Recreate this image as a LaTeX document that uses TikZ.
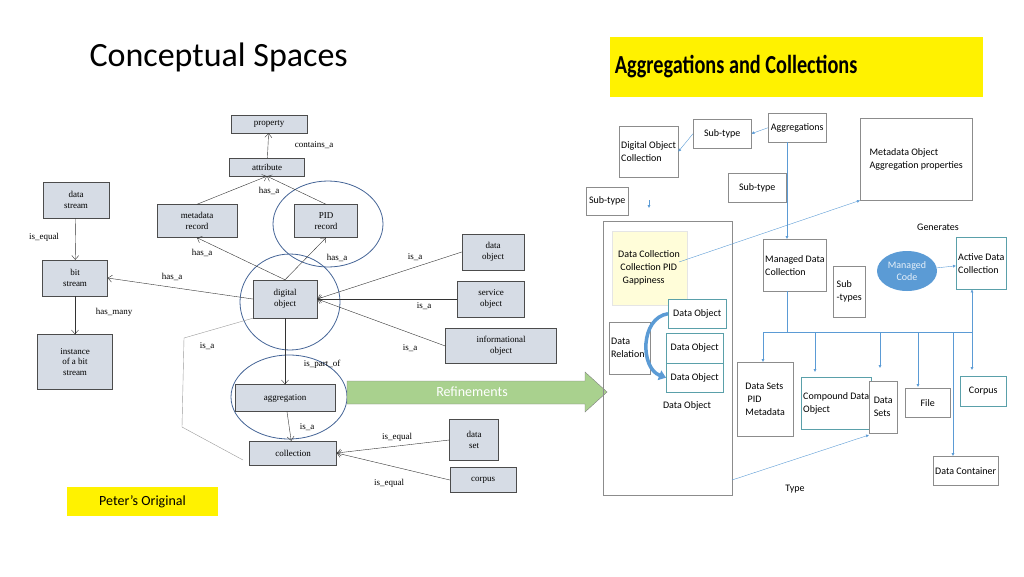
\documentclass[tikz,border=0pt]{standalone}
\usepackage{fontspec}
\setmainfont{Liberation Serif}
\newfontfamily\calfont{Carlito}
\usetikzlibrary{arrows.meta,shapes.geometric}
\definecolor{boxf}{RGB}{214,220,229}
\definecolor{ell}{RGB}{68,100,150}
\definecolor{lb}{RGB}{91,155,213}
\definecolor{gr}{RGB}{169,209,142}
\definecolor{tealb}{RGB}{90,160,170}
\begin{document}
\begin{tikzpicture}[x=1pt,y=-1pt,
 lbox/.style={draw=black!70,fill=boxf,align=center,font=\fontsize{9}{10.5}\selectfont,inner sep=0pt},
 lab/.style={font=\fontsize{9}{10}\selectfont},
 la/.style={draw=black!80,-{Straight Barb[length=4pt,width=7pt]}},
 elli/.style={draw=ell,thick},
 rbox/.style={draw=black!45,fill=white,align=left,font=\calfont\fontsize{10}{13}\selectfont,inner sep=2pt},
 ra/.style={draw=lb,-{Latex[length=3pt,width=3pt]}},
 rl/.style={draw=lb}]
\useasboundingbox (0,0) rectangle (1024,576);
\node[font=\calfont\fontsize{34}{36}\selectfont,anchor=west] (title) at (86,57) {Conceptual Spaces};
% left graph
\node[elli,ellipse,minimum width=110,minimum height=86] (e1) at (328,224) {};
\node[elli,ellipse,minimum width=100,minimum height=96] (e2) at (290,302) {};
\node[elli,ellipse,minimum width=116,minimum height=84] (e3) at (289,397) {};
\node[lbox,minimum width=76,minimum height=18] (prop) at (269,124) {property};
\node[lbox,minimum width=75,minimum height=18] (attr) at (267,167) {attribute};
\node[lbox,minimum width=66,minimum height=36] (ds) at (76,200) {data\\stream};
\node[lbox,minimum width=80,minimum height=33] (meta) at (197,221) {metadata\\record};
\node[lbox,minimum width=63,minimum height=33] (pid) at (326,221) {PID\\record};
\node[lbox,minimum width=62,minimum height=36] (dobj) at (493,252) {data\\object};
\node[lbox,minimum width=65,minimum height=36] (bs) at (75,278) {bit\\stream};
\node[lbox,minimum width=64,minimum height=38] (dig) at (285,299) {digital\\object};
\node[lbox,minimum width=67,minimum height=36] (serv) at (491,299) {service\\object};
\node[lbox,minimum width=111,minimum height=35] (info) at (501,346) {informational\\object};
\node[lbox,minimum width=75,minimum height=55] (inst) at (75,362) {instance\\of a bit\\stream};
\node[lbox,minimum width=100,minimum height=27] (agg) at (285,398) {aggregation};
\node[lbox,minimum width=49,minimum height=41] (dset) at (474,440) {data\\set};
\node[lbox,minimum width=87,minimum height=24] (coll) at (293,453) {collection};
\node[lbox,minimum width=66,minimum height=25] (corp) at (483,480) {corpus};
\draw[la] (attr) -- (prop);
\draw[la] (meta.north) -- (attr.south);
\draw[la] (pid.north) -- (attr.south);
\draw[la] (ds) -- (bs);
\draw[la] (bs) -- (inst);
\draw[la] (dig.north) -- (meta.south);
\draw[la] (dig.north) -- (pid.south);
\draw[la] (dig.west) -- (bs.east);
\draw[la] (dobj.west) -- (dig.east);
\draw[la] (serv.west) -- (dig.east);
\draw[la] (info.west) -- (dig.east);
\draw[la] (dig) -- (agg);
\draw[la] (agg) -- (coll);
\draw[la] (dset.west) -- (coll.east);
\draw[la] (corp.west) -- (coll.east);
\coordinate (g1) at (184,338); \coordinate (g2) at (182,427); \coordinate (g3) at (243,460);
\draw[black!40] (g3) -- (g2) -- (g1) -- (dig.south west);
\node[lab] (l1) at (314,145) {contains\_a};
\node[lab] (l2) at (269,191) {has\_a};
\node[lab] (l3) at (44,237) {is\_equal};
\node[lab] (l4) at (202,253) {has\_a};
\node[lab] (l5) at (337,258) {has\_a};
\node[lab] (l6) at (415,257) {is\_a};
\node[lab] (l7) at (172,277) {has\_a};
\node[lab] (l8) at (114,312) {has\_many};
\node[lab] (l9) at (424,306) {is\_a};
\node[lab] (l10) at (207,346) {is\_a};
\node[lab] (l11) at (410,348) {is\_a};
\node[lab] (l12) at (322,364) {is\_part\_of};
\node[lab] (l13) at (307,427) {is\_a};
\node[lab] (l14) at (397,437) {is\_equal};
\node[lab] (l15) at (389,483) {is\_equal};
\node[fill=yellow,minimum width=151,minimum height=29,font=\calfont\fontsize{14}{16}\selectfont] (peter) at (142.5,501.5) {Peter’s Original};
% refinements arrow
\draw[draw=black!50,fill=gr] (347,381) -- (585,381) -- (585,372) -- (607,392) -- (585,412) -- (585,404) -- (347,404) -- cycle;
\node[text=white,font=\calfont\fontsize{14}{16}\selectfont] (ref) at (472,392) {Refinements};
% right side
\node[fill=yellow,minimum width=373,minimum height=60] (ban) at (796.5,67) {};
\node[anchor=west,font=\calfont\bfseries\fontsize{26}{28}\selectfont,xscale=0.78,transform shape] (bant) at (612,67) {Aggregations and Collections};
\node[draw=black!45,minimum width=129,minimum height=274] (big) at (667.5,358) {};
\node[fill=yellow!15,draw=black!10,minimum width=75,minimum height=74] (yin) at (649.5,268) {};
\node[align=left,font=\calfont\fontsize{10}{13}\selectfont] (yt) at (649,268) {Data Collection\\ \ Collection PID\\ \ \ Gappiness};
\node[rbox,minimum width=58,minimum height=51,anchor=north west] (doc) at (619,126) {Digital Object\\Collection};
\node[rbox,minimum width=58,minimum height=29,anchor=north west] (st1) at (693,119) {Sub-type};
\node[rbox,minimum width=58,minimum height=29,anchor=north west] (aggr) at (768,113) {Aggregations};
\node[rbox,minimum width=112,minimum height=82,anchor=north west] (mo) at (860,118) {Metadata Object\\Aggregation properties};
\node[rbox,minimum width=58,minimum height=29,anchor=north west] (st2) at (728,173) {Sub-type};
\node[rbox,minimum width=42,minimum height=28,anchor=north west] (st3) at (586,187) {Sub-type};
\node[rbox,draw=tealb,minimum width=58,minimum height=29,anchor=north west] (do1) at (668,299) {Data Object};
\node[rbox,minimum width=38,minimum height=52,anchor=north west] (dr) at (609,322) {Data\\Relations};
\node[rbox,draw=tealb,minimum width=57,minimum height=30,anchor=north west] (do2) at (666,333) {Data Object};
\node[rbox,draw=tealb,minimum width=57,minimum height=29,anchor=north west] (do3) at (666,363) {Data Object};
\node[font=\calfont\fontsize{10}{12}\selectfont] (dot) at (687,406) {Data Object};
\draw[lb,line width=3.5pt,-{Triangle[length=7pt,width=10pt]}] (do1.west) .. controls (640,318) and (640,368) .. (do3.west);
\node[rbox,minimum width=57,minimum height=52,anchor=north west] (mdc) at (763,239) {Managed Data\\Collection};
\node[rbox,minimum width=32,minimum height=51,anchor=north west] (sub) at (833,266) {Sub\\-types};
\node[ellipse,fill=lb,minimum width=60,minimum height=40,text=white!85!lb,align=center,font=\calfont\fontsize{10}{12}\selectfont,inner sep=0pt] (mc) at (907,271) {Managed\\Code};
\node[font=\calfont\fontsize{10}{12}\selectfont] (gen) at (938,227) {Generates};
\node[rbox,draw=tealb,minimum width=44,minimum height=52,anchor=north west] (adc) at (956,237) {Active Data\\Collection};
\node[rbox,minimum width=56,minimum height=74,anchor=north west] (dspm) at (737,362) {Data Sets\\ \ PID\\Metadata};
\node[rbox,draw=tealb,minimum width=61,minimum height=52,anchor=north west] (cdo) at (801,377) {Compound Data\\Object};
\node[rbox,minimum width=28,minimum height=52,anchor=north west] (dsets) at (869,381) {Data\\Sets};
\node[rbox,minimum width=45,minimum height=29,anchor=north west] (file) at (905,388) {File};
\node[rbox,draw=tealb,minimum width=46,minimum height=30,anchor=north west] (corpus) at (960,376) {Corpus};
\node[rbox,minimum width=61,minimum height=29,anchor=north west] (dcon) at (933,456) {Data Container};
\node[font=\calfont\fontsize{10}{12}\selectfont] (type) at (795,489) {Type};
\draw[ra] (aggr.west) -- (st1.east);
\draw[ra] (st1.west) -- (doc.east);
\coordinate (dc1) at (649,200); \coordinate (dc2) at (649,208);
\draw[ra] (dc1) -- (dc2);
\coordinate (h0) at (763,332); \coordinate (h1) at (787,332); \coordinate (h2) at (972,332);
\coordinate (h3) at (953,332); \coordinate (h4) at (953,456);
\draw[ra] (aggr.south -| h1) -- (mdc.north -| h1);
\draw[rl] (mdc.south -| h1) -- (h1);
\draw[rl] (h0) -- (h2);
\draw[ra] (h0) -- (h0 |- dspm.north);
\draw[ra] (815,332) -- (815,372);
\draw[ra] (880,332) -- (880,368);
\draw[ra] (918,332) -- (918,387);
\draw[ra] (h3) -- (h4);
\draw[ra] (h2) -- (972,370);
\draw[ra] (h2) -- (adc.south -| h2);
\draw[ra] (mc) -- (adc);
\draw[ra] (679,262) -- (mo.south west);
\draw[ra] (732,480) -- (869,435);
\end{tikzpicture}
\end{document}
